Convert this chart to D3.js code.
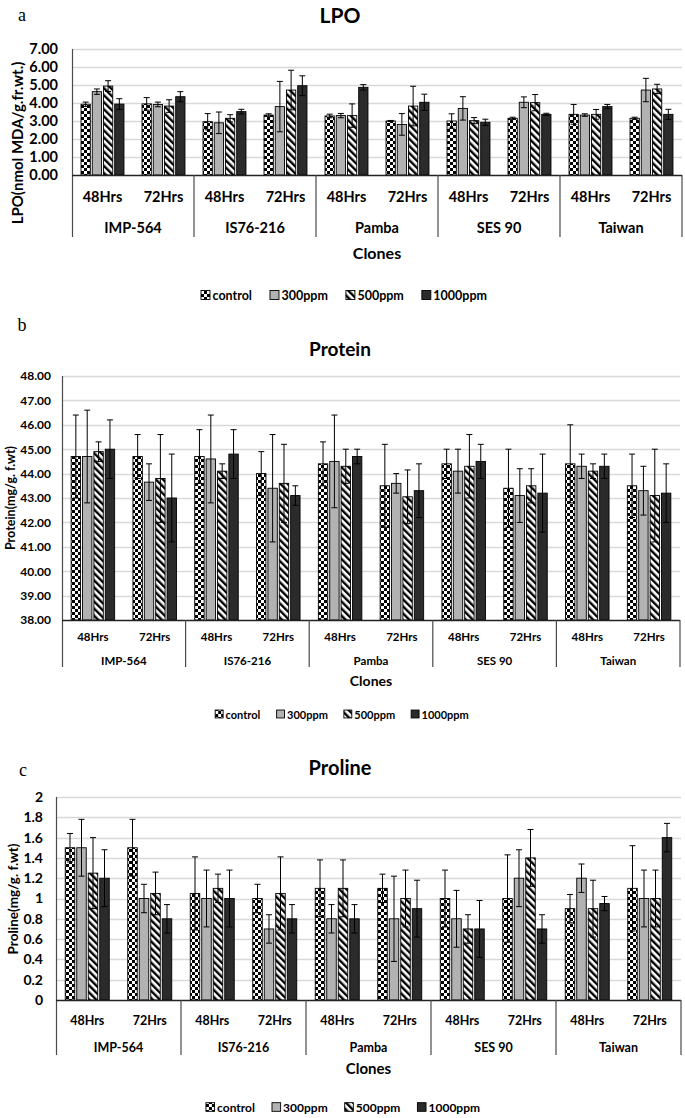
<!DOCTYPE html>
<html>
<head>
<meta charset="utf-8">
<script src="https://cdn.jsdelivr.net/npm/d3@7"></script>
<style>
  html, body { margin: 0; padding: 0; background: #fff; }
  svg { display: block; }
  text { font-family: Lato, "Open Sans", sans-serif; font-weight: 700; fill: #000; }
</style>
</head>
<body>
<svg id="chart" width="685" height="1118"></svg>
<script>
// ---------------- DATA ----------------
const clones = ["IMP-564", "IS76-216", "Pamba", "SES 90", "Taiwan"];
const hours = ["48Hrs", "72Hrs"];
const seriesNames = ["control", "300ppm", "500ppm", "1000ppm"];

// order: IMP-564 48,72 | IS76-216 48,72 | Pamba 48,72 | SES 90 48,72 | Taiwan 48,72
const lpoControl = [3.93, 3.95, 2.96, 3.33, 3.28, 3.00, 3.00, 3.15, 3.37, 3.15];
const lpo300     = [4.63, 3.92, 2.90, 3.80, 3.30, 2.81, 3.70, 4.04, 3.33, 4.72];
const lpo500     = [4.94, 3.83, 3.15, 4.72, 3.30, 3.83, 3.02, 4.02, 3.37, 4.78];
const lpo1000    = [3.94, 4.35, 3.52, 4.96, 4.87, 4.04, 2.93, 3.37, 3.80, 3.37];
const lpoControlErr = [0.12, 0.35, 0.45, 0.07, 0.10, 0.03, 0.40, 0.06, 0.55, 0.06];
const lpo300Err     = [0.15, 0.13, 0.60, 1.40, 0.12, 0.60, 0.65, 0.30, 0.07, 0.65];
const lpo500Err     = [0.30, 0.35, 0.20, 1.10, 0.65, 1.10, 0.17, 0.45, 0.27, 0.26];
const lpo1000Err    = [0.30, 0.28, 0.13, 0.55, 0.15, 0.45, 0.17, 0.06, 0.12, 0.28];

const proteinControl = [44.7, 44.7, 44.7, 44.0, 44.4, 43.5, 44.4, 43.4, 44.4, 43.5];
const protein300     = [44.7, 43.65, 44.6, 43.4, 44.5, 43.6, 44.1, 43.1, 44.3, 43.3];
const protein500     = [44.9, 43.8, 44.1, 43.6, 44.3, 43.05, 44.3, 43.5, 44.1, 43.1];
const protein1000    = [45.0, 43.0, 44.8, 43.1, 44.7, 43.3, 44.5, 43.2, 44.3, 43.2];
const proteinControlErr = [1.7, 0.9, 1.1, 0.9, 0.9, 1.7, 0.6, 1.6, 1.6, 1.3];
const protein300Err     = [1.9, 0.75, 1.8, 2.2, 1.9, 0.4, 0.9, 1.1, 0.5, 1.0];
const protein500Err     = [0.4, 1.8, 0.3, 1.6, 0.7, 1.1, 1.3, 0.7, 0.3, 1.9];
const protein1000Err    = [1.2, 1.8, 1.0, 0.4, 0.3, 1.1, 0.7, 1.6, 0.5, 1.2];

const prolineControl = [1.5, 1.5, 1.05, 1.0, 1.1, 1.1, 1.0, 1.0, 0.9, 1.1];
const proline300     = [1.5, 1.0, 1.0, 0.7, 0.8, 0.8, 0.8, 1.2, 1.2, 1.0];
const proline500     = [1.25, 1.05, 1.1, 1.05, 1.1, 1.0, 0.7, 1.4, 0.9, 1.0];
const proline1000    = [1.2, 0.8, 1.0, 0.8, 0.8, 0.9, 0.7, 0.7, 0.95, 1.6];
const prolineControlErr = [0.14, 0.28, 0.36, 0.14, 0.28, 0.14, 0.28, 0.43, 0.14, 0.42];
const proline300Err     = [0.28, 0.14, 0.28, 0.14, 0.14, 0.42, 0.28, 0.28, 0.14, 0.28];
const proline500Err     = [0.35, 0.21, 0.14, 0.36, 0.28, 0.28, 0.14, 0.28, 0.28, 0.28];
const proline1000Err    = [0.28, 0.14, 0.28, 0.14, 0.14, 0.28, 0.28, 0.14, 0.07, 0.14];

const lpoTicks = [0, 1, 2, 3, 4, 5, 6, 7];
const proteinTicks = [38, 39, 40, 41, 42, 43, 44, 45, 46, 47, 48];
const prolineTicks = [0, 0.2, 0.4, 0.6, 0.8, 1, 1.2, 1.4, 1.6, 1.8, 2];

// ---------------- DRAW ----------------
const svg = d3.select("#chart");
const defs = svg.append("defs");

// control: checkerboard
const pc = defs.append("pattern").attr("id", "pCheck").attr("patternUnits", "userSpaceOnUse")
  .attr("width", 6).attr("height", 6);
pc.append("rect").attr("width", 6).attr("height", 6).attr("fill", "#fff");
pc.append("rect").attr("x", 0).attr("y", 0).attr("width", 3).attr("height", 3).attr("fill", "#000");
pc.append("rect").attr("x", 3).attr("y", 3).attr("width", 3).attr("height", 3).attr("fill", "#000");
// 500ppm: diagonal stripes
const ps = defs.append("pattern").attr("id", "pStripe").attr("patternUnits", "userSpaceOnUse")
  .attr("width", 5).attr("height", 5).attr("patternTransform", "rotate(-45)");
ps.append("rect").attr("width", 5).attr("height", 5).attr("fill", "#fff");
ps.append("rect").attr("x", 0).attr("y", 0).attr("width", 2.4).attr("height", 5).attr("fill", "#000");

const fills = ["url(#pCheck)", "#b2b2b2", "url(#pStripe)", "#2b2b2b"];

function drawPanel(cfg) {
  const g = svg.append("g");
  const series = cfg.values.map((vals, si) => vals.map((v, i) => ({
    s: si, i, v, e: cfg.errors[si][i], clone: Math.floor(i / 2), hour: i % 2
  })));

  const y = d3.scaleLinear().domain(cfg.domain).range([cfg.yBase, cfg.yTop]);
  const xClone = d3.scaleBand().domain(clones).range([cfg.x0, cfg.x1]).paddingInner(0).paddingOuter(0);
  const xHour = d3.scaleBand().domain(hours).range([0, xClone.bandwidth()]);
  const sub = xHour.bandwidth();
  const barW = sub * 0.152;
  const step = sub * 0.184;
  const xSeries = d3.scaleLinear().domain([0, 3]).range([-1.5 * step, 1.5 * step]);
  const cx = d => xClone(clones[d.clone]) + xHour(hours[d.hour]) + sub / 2 + xSeries(d.s);

  // gridlines
  g.append("g").selectAll("line").data(cfg.ticks.slice(1)).join("line")
    .attr("x1", cfg.x0).attr("x2", cfg.x1)
    .attr("y1", d => Math.round(y(d)) + 0.5).attr("y2", d => Math.round(y(d)) + 0.5)
    .attr("stroke", "#d9d9d9").attr("stroke-width", 1.3);

  // y axis via d3.axisLeft
  const ax = g.append("g").attr("transform", `translate(${cfg.x0 - cfg.tickGap},0)`)
    .call(d3.axisLeft(y).tickValues(cfg.ticks).tickFormat(cfg.fmt).tickSize(0).tickPadding(0));
  ax.select(".domain").remove();
  ax.selectAll("text").attr("font-size", cfg.tickFs).attr("font-family", "Lato, sans-serif")
    .attr("font-weight", 700).attr("fill", "#000");

  // bars
  const all = series.flat();
  g.append("g").selectAll("rect").data(all).join("rect")
    .attr("x", d => cx(d) - barW / 2)
    .attr("y", d => y(d.v))
    .attr("width", barW)
    .attr("height", d => y(cfg.domain[0]) - y(d.v))
    .attr("fill", d => fills[d.s])
    .attr("stroke", "#000").attr("stroke-width", 0.9);

  // error bars
  const eb = g.append("g").attr("stroke", "#000").attr("stroke-width", 1);
  const capW = 3;
  eb.selectAll("line.v").data(all).join("line").attr("class", "v")
    .attr("x1", cx).attr("x2", cx)
    .attr("y1", d => y(d.v + d.e)).attr("y2", d => y(Math.max(cfg.domain[0], d.v - d.e)));
  eb.selectAll("line.t").data(all).join("line").attr("class", "t")
    .attr("x1", d => cx(d) - capW).attr("x2", d => cx(d) + capW)
    .attr("y1", d => y(d.v + d.e)).attr("y2", d => y(d.v + d.e));
  eb.selectAll("line.b").data(all.filter(d => d.v - d.e > cfg.domain[0])).join("line").attr("class", "b")
    .attr("x1", d => cx(d) - capW).attr("x2", d => cx(d) + capW)
    .attr("y1", d => y(d.v - d.e)).attr("y2", d => y(d.v - d.e));

  // axis lines
  g.append("line").attr("x1", cfg.x0 + 0.5).attr("x2", cfg.x0 + 0.5)
    .attr("y1", cfg.yTop).attr("y2", cfg.axisBottom).attr("stroke", "#4a4a4a").attr("stroke-width", 1.2);
  g.append("line").attr("x1", cfg.x0).attr("x2", cfg.x1)
    .attr("y1", cfg.yBase + 0.5).attr("y2", cfg.yBase + 0.5).attr("stroke", "#222").attr("stroke-width", 1.3);
  g.append("g").selectAll("line").data(clones.slice(1).concat(["__end"])).join("line")
    .attr("x1", d => d === "__end" ? cfg.x1 : xClone(d)).attr("x2", d => d === "__end" ? cfg.x1 : xClone(d))
    .attr("y1", cfg.yBase).attr("y2", cfg.axisBottom).attr("stroke", "#4a4a4a").attr("stroke-width", 1.2);

  // category labels
  const hrsData = [];
  clones.forEach(c => hours.forEach(h => hrsData.push({ c, h })));
  g.append("g").selectAll("text").data(hrsData).join("text")
    .attr("x", d => xClone(d.c) + xHour(d.h) + sub / 2).attr("y", cfg.hrsY)
    .attr("text-anchor", "middle").attr("dominant-baseline", "central")
    .attr("font-size", cfg.catFs).text(d => d.h);
  g.append("g").selectAll("text").data(clones).join("text")
    .attr("x", d => xClone(d) + xClone.bandwidth() / 2).attr("y", cfg.cloneY)
    .attr("text-anchor", "middle").attr("dominant-baseline", "central")
    .attr("font-size", cfg.catFs).text(d => d);

  // axis titles
  g.append("text").attr("x", (cfg.x0 + cfg.x1) / 2).attr("y", cfg.clonesY)
    .attr("text-anchor", "middle").attr("dominant-baseline", "central")
    .attr("font-size", cfg.clonesFs).text("Clones");
  g.append("text").attr("transform", `translate(${cfg.yTitleX},${cfg.yTitleY}) rotate(-90)`)
    .attr("text-anchor", "middle").attr("dominant-baseline", "central")
    .attr("font-size", cfg.yTitleFs).text(cfg.yTitle);

  // chart title and panel letter
  g.append("text").attr("x", cfg.titleX).attr("y", cfg.titleY)
    .attr("text-anchor", "middle").attr("dominant-baseline", "central")
    .attr("font-size", cfg.titleFs).text(cfg.title);
  g.append("text").attr("x", cfg.letterX).attr("y", cfg.letterY)
    .attr("text-anchor", "middle").attr("dominant-baseline", "central")
    .style("font-family", "'Liberation Serif', 'DejaVu Serif', serif").style("font-weight", 400)
    .attr("font-size", 18).text(cfg.letter);

  // legend
  const lg = g.append("g");
  const sq = cfg.legFs * 0.72;
  const items = lg.selectAll("g").data(seriesNames).join("g");
  items.append("rect").attr("width", sq).attr("height", sq)
    .attr("y", cfg.legendY - sq / 2)
    .attr("fill", (d, i) => fills[i]).attr("stroke", "#000").attr("stroke-width", 0.9);
  items.append("text").attr("x", sq + 2.5).attr("y", cfg.legendY)
    .attr("dominant-baseline", "central").attr("font-size", cfg.legFs).text(d => d);
  let xpos = 0;
  const gap = cfg.legGap;
  items.each(function () {
    const w = this.getBBox().width;
    d3.select(this).attr("data-x", xpos).attr("transform", `translate(${xpos},0)`);
    xpos += w + gap;
  });
  const totalW = xpos - gap;
  lg.attr("transform", `translate(${cfg.legendCx - totalW / 2},0)`);
}

drawPanel({
  values: [lpoControl, lpo300, lpo500, lpo1000],
  errors: [lpoControlErr, lpo300Err, lpo500Err, lpo1000Err],
  domain: [0, 7], ticks: lpoTicks, fmt: d3.format(".2f"),
  x0: 72, x1: 682, yTop: 49, yBase: 175, axisBottom: 237,
  hrsY: 196, cloneY: 227, clonesY: 252, legendY: 295, legendCx: 344, legGap: 18,
  tickGap: 14, tickFs: 14.5, catFs: 14.5, clonesFs: 16, legFs: 12.5,
  title: "LPO", titleX: 340, titleY: 14, titleFs: 21,
  letter: "a", letterX: 22, letterY: 15,
  yTitle: "LPO(nmol MDA/g.fr.wt.)", yTitleX: 17, yTitleY: 143, yTitleFs: 15
});

drawPanel({
  values: [proteinControl, protein300, protein500, protein1000],
  errors: [proteinControlErr, protein300Err, protein500Err, protein1000Err],
  domain: [38, 48], ticks: proteinTicks, fmt: d3.format(".2f"),
  x0: 62, x1: 680, yTop: 376, yBase: 620, axisBottom: 667,
  hrsY: 636, cloneY: 660, clonesY: 680, legendY: 714, legendCx: 342, legGap: 16,
  tickGap: 11, tickFs: 12, catFs: 11.5, clonesFs: 14, legFs: 11,
  title: "Protein", titleX: 340, titleY: 348, titleFs: 19,
  letter: "b", letterX: 22, letterY: 325,
  yTitle: "Protein(mg/g. f.wt)", yTitleX: 10, yTitleY: 498, yTitleFs: 12.5
});

drawPanel({
  values: [prolineControl, proline300, proline500, proline1000],
  errors: [prolineControlErr, proline300Err, proline500Err, proline1000Err],
  domain: [0, 2], ticks: prolineTicks, fmt: d => d3.format("~g")(d),
  x0: 56, x1: 681, yTop: 797, yBase: 1000, axisBottom: 1055,
  hrsY: 1020, cloneY: 1047, clonesY: 1068, legendY: 1107, legendCx: 343, legGap: 17,
  tickGap: 13, tickFs: 14, catFs: 12.5, clonesFs: 15, legFs: 12,
  title: "Proline", titleX: 340, titleY: 767, titleFs: 20,
  letter: "c", letterX: 23, letterY: 770,
  yTitle: "Proline(mg/g. f.wt)", yTitleX: 13, yTitleY: 899, yTitleFs: 13.5
});
</script>
</body>
</html>
